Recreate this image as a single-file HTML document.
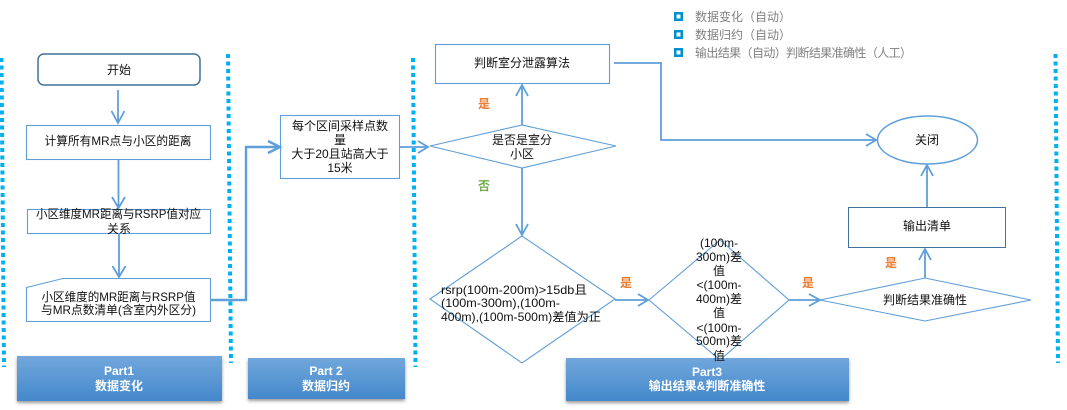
<!DOCTYPE html>
<html>
<head>
<meta charset="utf-8">
<style>
html,body{margin:0;padding:0;background:#fff;width:1067px;height:410px;overflow:hidden}
svg{display:block;position:absolute;left:0;top:0}
text{font-family:"Liberation Sans","Noto Sans CJK SC",sans-serif;font-size:12px;fill:#111;text-anchor:middle}
.l{stroke:#5f9fd9;stroke-width:1.8;fill:none}
.b{stroke:#5f9fd9;stroke-width:1.1;fill:#fff}
.dot{stroke:#00b0f0;stroke-width:4;stroke-dasharray:4 3.5;fill:none}
.g{fill:#808080;text-anchor:start}
.w{fill:#fff;font-weight:bold}
.o{fill:#ed7d31;font-weight:bold}
.gr{fill:#70ad47;font-weight:bold}
</style>
</head>
<body>
<svg width="1067" height="410" viewBox="0 0 1067 410" xmlns="http://www.w3.org/2000/svg">
<defs>
<linearGradient id="hd" x1="0" y1="0" x2="0" y2="1">
<stop offset="0" stop-color="#71a7dc"/>
<stop offset="1" stop-color="#4488cb"/>
</linearGradient>
<filter id="sh" x="-5%" y="-10%" width="110%" height="130%">
<feDropShadow dx="0" dy="2" stdDeviation="1.5" flood-color="#000" flood-opacity="0.4"/>
</filter>
</defs>

<path class="dot" d="M1.500 58L4 367"/>
<path class="dot" d="M228 54L231 363"/>
<path class="dot" d="M413 58L415.500 367"/>
<path class="dot" d="M1055.500 54L1058 363"/>

<rect x="17" y="356" width="205" height="45" fill="url(#hd)" filter="url(#sh)"/>
<rect x="248" y="358" width="157" height="41" fill="url(#hd)" filter="url(#sh)"/>
<rect x="566" y="358" width="283" height="43" fill="url(#hd)" filter="url(#sh)"/>
<text class="w" x="119" y="375">Part1</text>
<text class="w" x="119" y="390">数据变化</text>
<text class="w" x="326" y="375">Part 2</text>
<text class="w" x="326" y="390">数据归约</text>
<text class="w" x="707" y="376">Part3</text>
<text class="w" x="707" y="390">输出结果&amp;判断准确性</text>

<rect x="38" y="54" width="162" height="31" rx="6" fill="#fff" stroke="#41719c" stroke-width="1.500"/>
<rect class="b" x="26.500" y="125.500" width="184" height="34"/>
<rect class="b" x="27.500" y="209.500" width="183" height="24"/>
<path class="b" d="M26.500 287.500L63 278.500H210.500V321.500H26.500Z"/>
<rect class="b" x="280.500" y="115.500" width="119" height="63"/>
<rect class="b" x="435.500" y="44.500" width="174" height="39"/>
<path class="b" d="M430 146L522 125L616 146L522 168Z"/>
<path class="b" d="M430 299L522 236L615 299L522 363Z"/>
<path class="b" d="M649 300L720 240L789 300L720 360Z"/>
<path class="b" d="M820 300L925 278L1031 300L925 321Z"/>
<rect x="848.500" y="207.500" width="157" height="40" fill="#fff" stroke="#41719c" stroke-width="1"/>
<ellipse cx="927.500" cy="140" rx="50" ry="24" fill="#fff" stroke="#5f9fd9" stroke-width="1.500"/>

<path class="l" d="M118 90V122M111.500 111L118 123L124.500 111"/>
<path class="l" d="M118.500 159V207M112 197L118.500 208L125 197"/>
<path class="l" d="M119 233V277M112.500 266L119 277L125.500 266"/>
<path class="l" style="stroke-width:2.400" d="M211 300H246V147H280M268 141L280 147L268 153"/>
<path class="l" d="M399 147H428M418 141L428 147L418 153"/>
<path class="l" d="M522 125V85M516 96L522 85L528 96"/>
<path class="l" d="M522 168V235M516 224L522 235L528 224"/>
<path class="l" d="M614 63H661V140H875M866 134L876 140L866 146"/>
<path class="l" d="M615 300H648M638 294L648 300L638 306"/>
<path class="l" d="M789 300H820M809 294L820 300L809 306"/>
<path class="l" d="M925 278V249M919 260L925 249L931 260"/>
<path class="l" d="M927 207V165M921 176L927 165L933 176"/>

<text x="119" y="74">开始</text>
<text x="118" y="145" textLength="147" lengthAdjust="spacingAndGlyphs">计算所有MR点与小区的距离</text>
<text x="118.500" y="218" textLength="165" lengthAdjust="spacingAndGlyphs">小区维度MR距离与RSRP值对应</text>
<text x="119" y="233">关系</text>
<text x="118.500" y="301" textLength="154" lengthAdjust="spacingAndGlyphs">小区维度的MR距离与RSRP值</text>
<text x="118.500" y="314" textLength="155" lengthAdjust="spacingAndGlyphs">与MR点数清单(含室内外区分)</text>
<text x="340" y="130">每个区间采样点数</text>
<text x="340" y="144">量</text>
<text x="340" y="158">大于20且站高大于</text>
<text x="340" y="172">15米</text>
<text x="522" y="67">判断室分泄露算法</text>
<text x="522" y="144">是否是室分</text>
<text x="522" y="158">小区</text>
<text x="927" y="144">关闭</text>
<text x="927" y="230">输出清单</text>
<text x="925" y="304">判断结果准确性</text>

<text x="441" y="294" style="text-anchor:start" textLength="146" lengthAdjust="spacingAndGlyphs">rsrp(100m-200m)&gt;15db且</text>
<text x="441" y="307" style="text-anchor:start" textLength="119" lengthAdjust="spacingAndGlyphs">(100m-300m),(100m-</text>
<text x="441" y="321" style="text-anchor:start" textLength="160" lengthAdjust="spacingAndGlyphs">400m),(100m-500m)差值为正</text>

<text x="719" y="247">(100m-</text>
<text x="719" y="261">300m)差</text>
<text x="719" y="275">值</text>
<text x="719" y="289">&lt;(100m-</text>
<text x="719" y="303">400m)差</text>
<text x="719" y="317">值</text>
<text x="719" y="332">&lt;(100m-</text>
<text x="719" y="345">500m)差</text>
<text x="719" y="360">值</text>

<text class="o" x="484" y="108">是</text>
<text class="gr" x="484" y="190">否</text>
<text class="o" x="626" y="287">是</text>
<text class="o" x="808" y="287">是</text>
<text class="o" x="891" y="267">是</text>

<rect x="675.250" y="13.250" width="6.500" height="6.500" fill="#fff" stroke="#0090d0" stroke-width="2.500"/>
<rect x="675.250" y="31.250" width="6.500" height="6.500" fill="#fff" stroke="#0090d0" stroke-width="2.500"/>
<rect x="675.250" y="49.250" width="6.500" height="6.500" fill="#fff" stroke="#0090d0" stroke-width="2.500"/>
<text class="g" x="695" y="21">数据变化（自动）</text>
<text class="g" x="695" y="39">数据归约（自动）</text>
<text class="g" x="695" y="57" textLength="217" lengthAdjust="spacing">输出结果（自动）判断结果准确性（人工）</text>
</svg>
</body>
</html>
